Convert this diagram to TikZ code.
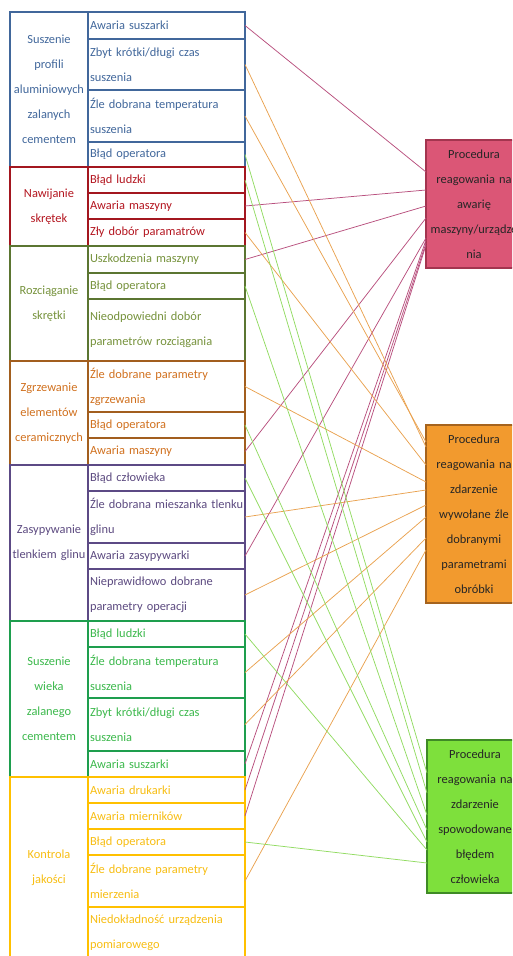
\documentclass[tikz,border=0pt]{standalone}
\usepackage{fontspec}
\setmainfont{Carlito}
\usetikzlibrary{positioning}
\definecolor{blu}{HTML}{41679B}
\definecolor{redb}{HTML}{A3161F}
\definecolor{redt}{HTML}{B3151F}
\definecolor{olvb}{HTML}{5B7531}
\definecolor{olvt}{HTML}{76923C}
\definecolor{brnb}{HTML}{A25E1E}
\definecolor{brnt}{HTML}{D0701E}
\definecolor{purb}{HTML}{5C4A85}
\definecolor{purt}{HTML}{5C4A80}
\definecolor{grnb}{HTML}{1E9E4E}
\definecolor{grnt}{HTML}{3BB84B}
\definecolor{ylwb}{HTML}{FFC000}
\definecolor{ylwt}{HTML}{F7BD12}
\definecolor{lnpink}{HTML}{B8507E}
\definecolor{lnorg}{HTML}{E9A250}
\definecolor{lngrn}{HTML}{92DB62}
\definecolor{fillA}{HTML}{DB5676}
\definecolor{drawA}{HTML}{A3354F}
\definecolor{fillB}{HTML}{F29A2E}
\definecolor{drawB}{HTML}{A5631E}
\definecolor{fillC}{HTML}{7EE03C}
\definecolor{drawC}{HTML}{3F8A26}
\newcommand{\txt}{\fontsize{12.4}{25}\selectfont}

\begin{document}
\begin{tikzpicture}[x=1pt,y=-1pt,
	grp/.style 2 args={draw=#1,text=#2,line width=1.8pt,inner sep=0pt,outer sep=0pt,minimum width=78pt,text width=76pt,align=center,font=\txt},
	item/.style 2 args={draw=#1,text=#2,line width=1.8pt,inner ysep=0pt,inner xsep=2pt,outer sep=0pt,minimum width=157pt,text width=153pt,align=left,font=\txt},
	proc/.style 2 args={fill=#1,draw=#2,line width=1.6pt,inner sep=0pt,outer sep=0pt,minimum width=96pt,text width=94pt,align=center,anchor=north west,font=\txt,text=black!85},
	link/.style={draw=#1,line width=0.75pt}]
	\useasboundingbox (0,0) rectangle (512,956);
	\clip (0,0) rectangle (512,956);
	
	\node[grp={blu}{blu},minimum height=155pt,anchor=north west] (g1) at (10,12) {Suszenie\\profili\\aluminiowych\\zalanych\\cementem};
	\node[item={blu}{blu},minimum height=27pt,anchor=north west] (s1a) at (g1.north east) {Awaria suszarki};
	\node[item={blu}{blu},minimum height=51pt,below=0pt of s1a] (s1b) {Zbyt krótki/długi czas\\suszenia};
	\node[item={blu}{blu},minimum height=52pt,below=0pt of s1b] (s1c) {Źle dobrana temperatura\\suszenia};
	\node[item={blu}{blu},minimum height=25pt,below=0pt of s1c] (s1d) {Błąd operatora};
	
	\node[grp={redb}{redt},minimum height=79pt,below=0pt of g1] (g2) {Nawijanie\\skrętek};
	\node[item={redb}{redt},minimum height=26pt,anchor=north west] (s2a) at (g2.north east) {Błąd ludzki};
	\node[item={redb}{redt},minimum height=26pt,below=0pt of s2a] (s2b) {Awaria maszyny};
	\node[item={redb}{redt},minimum height=27pt,below=0pt of s2b] (s2c) {Zły dobór paramatrów};
	
	\node[grp={olvb}{olvt},minimum height=115pt,below=0pt of g2] (g3) {Rozciąganie\\skrętki};
	\node[item={olvb}{olvt},minimum height=27pt,anchor=north west] (s3a) at (g3.north east) {Uszkodzenia maszyny};
	\node[item={olvb}{olvt},minimum height=26pt,below=0pt of s3a] (s3b) {Błąd operatora};
	\node[item={olvb}{olvt},minimum height=62pt,below=0pt of s3b] (s3c) {Nieodpowiedni dobór\\parametrów rozciągania};
	
	\node[grp={brnb}{brnt},minimum height=104pt,below=0pt of g3] (g4) {Zgrzewanie\\elementów\\ceramicznych};
	\node[item={brnb}{brnt},minimum height=51pt,anchor=north west] (s4a) at (g4.north east) {Źle dobrane parametry\\zgrzewania};
	\node[item={brnb}{brnt},minimum height=26pt,below=0pt of s4a] (s4b) {Błąd operatora};
	\node[item={brnb}{brnt},minimum height=27pt,below=0pt of s4b] (s4c) {Awaria maszyny};
	
	\node[grp={purb}{purt},minimum height=156pt,below=0pt of g4] (g5) {Zasypywanie\\tlenkiem glinu};
	\node[item={purb}{purt},minimum height=26pt,anchor=north west] (s5a) at (g5.north east) {Błąd człowieka};
	\node[item={purb}{purt},minimum height=52pt,below=0pt of s5a] (s5b) {\mbox{Źle dobrana mieszanka tlenku}\\glinu};
	\node[item={purb}{purt},minimum height=26pt,below=0pt of s5b] (s5c) {Awaria zasypywarki};
	\node[item={purb}{purt},minimum height=52pt,below=0pt of s5c] (s5d) {Nieprawidłowo dobrane\\parametry operacji};
	
	\node[grp={grnb}{grnt},minimum height=156pt,below=0pt of g5] (g6) {Suszenie\\wieka\\zalanego\\cementem};
	\node[item={grnb}{grnt},minimum height=26pt,anchor=north west] (s6a) at (g6.north east) {Błąd ludzki};
	\node[item={grnb}{grnt},minimum height=51pt,below=0pt of s6a] (s6b) {Źle dobrana temperatura\\suszenia};
	\node[item={grnb}{grnt},minimum height=53pt,below=0pt of s6b] (s6c) {Zbyt krótki/długi czas\\suszenia};
	\node[item={grnb}{grnt},minimum height=26pt,below=0pt of s6c] (s6d) {Awaria suszarki};
	
	\node[grp={ylwb}{ylwt},minimum height=181pt,below=0pt of g6] (g7) {Kontrola\\jakości};
	\node[item={ylwb}{ylwt},minimum height=26pt,anchor=north west] (s7a) at (g7.north east) {Awaria drukarki};
	\node[item={ylwb}{ylwt},minimum height=26pt,below=0pt of s7a] (s7b) {Awaria mierników};
	\node[item={ylwb}{ylwt},minimum height=26pt,below=0pt of s7b] (s7c) {Błąd operatora};
	\node[item={ylwb}{ylwt},minimum height=52pt,below=0pt of s7c] (s7d) {Źle dobrane parametry\\mierzenia};
	\node[item={ylwb}{ylwt},minimum height=51pt,below=0pt of s7d] (s7e) {Niedokładność urządzenia\\pomiarowego};
	
	\node[proc={fillA}{drawA},minimum height=128pt] (pa) at (426,140) {Procedura\\reagowania na\\awarię\\maszyny/urządze\\nia};
	\node[proc={fillB}{drawB},minimum height=178pt] (pb) at (426,425) {Procedura\\reagowania na\\zdarzenie\\wywołane źle\\dobranymi\\parametrami\\obróbki};
	\node[proc={fillC}{drawC},minimum height=153pt] (pc) at (427,740) {Procedura\\reagowania na\\zdarzenie\\spowodowane\\błędem\\człowieka};
	
	\draw[link=lnpink] (s1a.east) -- ([yshift=32pt]pa.west);
	\draw[link=lnpink] (s2b.east) -- ([yshift=14pt]pa.west);
	\draw[link=lnpink] (s3a.east) -- ([yshift=-2pt]pa.west);
	\draw[link=lnpink] (s4c.east) -- ([yshift=-14pt]pa.west);
	\draw[link=lnpink] (s5c.east) -- ([yshift=-34pt]pa.west);
	\draw[link=lnpink] (s6d.east) -- ([yshift=-36pt]pa.west);
	\draw[link=lnpink] (s7a.east) -- ([yshift=-39pt]pa.west);
	\draw[link=lnpink] (s7b.east) -- ([yshift=-41pt]pa.west);
	
	\draw[link=lnorg] (s1b.east) -- ([yshift=67pt]pb.west);
	\draw[link=lnorg] (s1c.east) -- ([yshift=72pt]pb.west);
	\draw[link=lnorg] (s2c.east) -- ([yshift=49pt]pb.west);
	\draw[link=lnorg] (s4a.east) -- ([yshift=32pt]pb.west);
	\draw[link=lnorg] (s5b.east) -- ([yshift=24pt]pb.west);
	\draw[link=lnorg] (s5d.east) -- ([yshift=9pt]pb.west);
	\draw[link=lnorg] (s6b.east) -- ([yshift=-3pt]pb.west);
	\draw[link=lnorg] (s6c.east) -- ([yshift=-24pt]pb.west);
	\draw[link=lnorg] (s7d.east) -- ([yshift=-36pt]pb.west);
	
	\draw[link=lngrn] (s1d.east) -- ([yshift=43.5pt]pc.west);
	\draw[link=lngrn] (s2a.east) -- ([yshift=23.5pt]pc.west);
	\draw[link=lngrn] (s3b.east) -- ([yshift=1.5pt]pc.west);
	\draw[link=lngrn] (s4b.east) -- ([yshift=-13.5pt]pc.west);
	\draw[link=lngrn] (s5a.east) -- ([yshift=-25.5pt]pc.west);
	\draw[link=lngrn] (s6a.east) -- ([yshift=-33.5pt]pc.west);
	\draw[link=lngrn] (s7c.east) -- ([yshift=-46.5pt]pc.west);
\end{tikzpicture}
\end{document}
